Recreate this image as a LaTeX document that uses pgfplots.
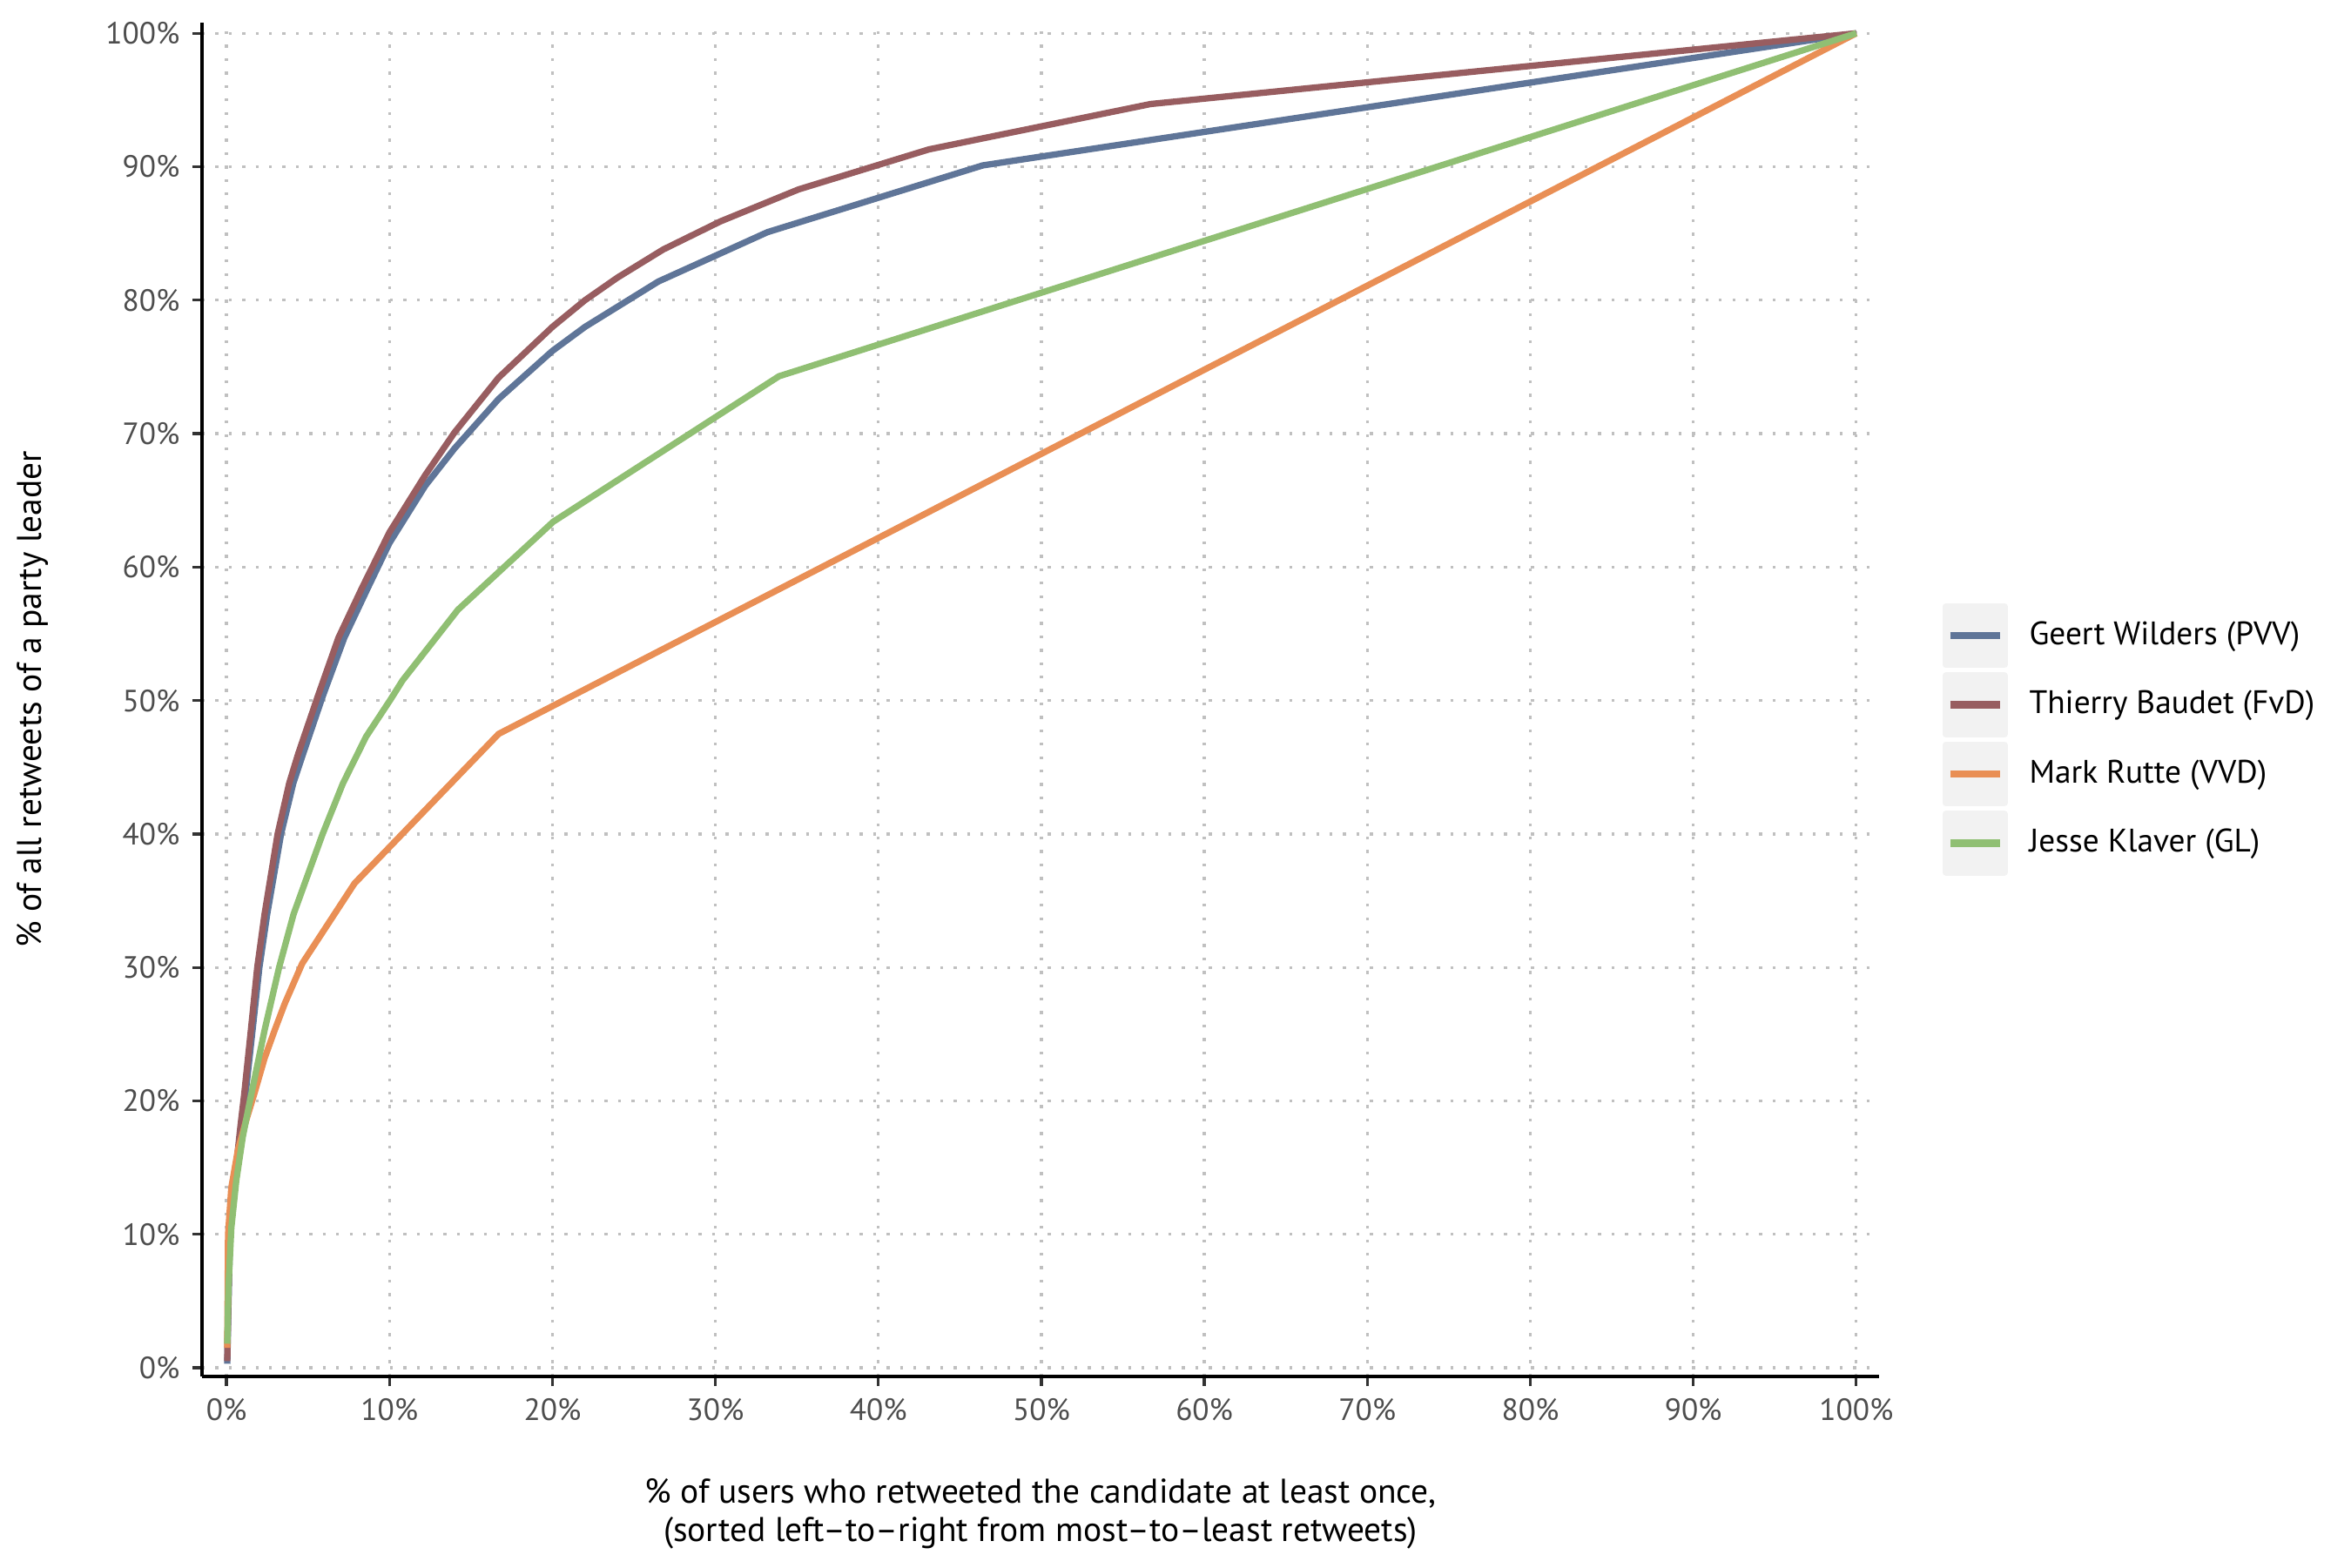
\documentclass[border=0pt]{standalone}
\usepackage{fontspec}
\setmainfont{PT Sans}
\usepackage{pgfplots}
\pgfplotsset{compat=1.18}
\definecolor{cgeert}{RGB}{95,117,152}
\definecolor{cthierry}{RGB}{152,93,96}
\definecolor{cmark}{RGB}{233,143,85}
\definecolor{cjesse}{RGB}{144,191,115}
\definecolor{legbg}{RGB}{242,242,242}
\definecolor{gridcol}{RGB}{192,192,192}
\definecolor{labcol}{RGB}{77,77,77}
\definecolor{tickcol}{RGB}{51,51,51}
\begin{document}
\begin{tikzpicture}
\useasboundingbox (-55.68bp,-52.56bp) rectangle (592.32bp,379.44bp);
\begin{axis}[
  at={(0,0)}, anchor=south west,
  scale only axis, width=462.24bp, height=373.2bp,
  xmin=-1.5, xmax=101.4, ymin=-0.65, ymax=100.8,
  axis lines=left,
  axis line style={-, black, line width=0.85bp},
  xtick={0,10,...,100}, ytick={0,10,...,100},
  xticklabel={\pgfmathprintnumber{\tick}\%},
  yticklabel={\pgfmathprintnumber{\tick}\%},
  /pgf/number format/assume math mode=true,
  tick align=outside, major tick length=2.64bp,
  tick style={line width=0.8bp, color=tickcol},
  grid=major,
  major grid style={line width=0.8bp, color=gridcol, dash pattern=on 0.8bp off 2.9bp},
  ticklabel style={font=\fontsize{8.5}{10}\selectfont, text=labcol},
  xlabel={\% of users who retweeted the candidate at least once,\\(sorted left–to–right from most–to–least retweets)},
  xlabel style={at={(axis description cs:0.5,0)}, anchor=north, yshift=-28bp, inner sep=0pt, align=center, font=\fontsize{9.5}{10.6}\selectfont, text=black},
  ylabel={\% of all retweets of a party leader},
  ylabel style={at={(axis description cs:-0.1008,0.5)}, anchor=center, inner sep=0pt, font=\fontsize{9.5}{10.6}\selectfont, text=black},
  legend style={at={(axis description cs:1.038,0.571)}, anchor=north west, draw=none, fill=none, inner sep=0pt, outer sep=0pt, row sep=1.2bp, column sep=6bp, nodes={inner sep=0pt, font=\fontsize{9}{11}\selectfont, text=black}},
  legend cell align=left,
  legend image code/.code={\fill[legbg] (0bp,-8.05bp) rectangle (16.1bp,8.05bp); \draw[#1, line width=2bp] (1.2bp,0bp) -- (14.9bp,0bp);},
  every axis plot/.append style={no markers, line width=1.75bp, line join=round},
]
\addplot[cgeert] coordinates {
(0.05,0.3) (0.1,3.5) (0.22,10) (0.55,14) (0.92,18) (1.17,20.5) (1.6,25.3) (2.02,30)
(2.5,34) (3.35,40) (4.1,43.8) (4.7,46) (5.9,50.3) (7.23,54.7) (8.66,58.4) (10,61.8)
(12.2,66.1) (14,68.9) (16.7,72.6) (20,76.2) (22,78) (26.5,81.4) (33.2,85.1)
(46.4,90.1) (100,100)};
\addlegendentry{Geert Wilders (PVV)}
\addplot[cthierry] coordinates {
(0.05,0.5) (0.1,4) (0.2,10) (0.5,14) (0.85,18) (1.09,20.5) (1.5,25.3) (1.89,30)
(2.34,34) (3.14,40) (3.85,43.8) (4.4,46) (5.6,50.3) (6.87,54.7) (8.3,58.4) (10,62.6)
(12.2,66.9) (14,70.1) (16.7,74.2) (20,78.0) (22,80.0) (24,81.7) (26.8,83.8)
(30.3,85.9) (35.1,88.3) (43.1,91.3) (56.7,94.7) (100,100)};
\addlegendentry{Thierry Baudet (FvD)}
\addplot[cmark] coordinates {
(0.05,1.5) (0.1,10) (0.3,13.5) (0.7,16.3) (1.2,18.5) (1.7,20.5) (2.34,23.2)
(2.96,25.3) (3.58,27.3) (4.65,30.3) (7.86,36.3) (16.7,47.5) (100,100)};
\addlegendentry{Mark Rutte (VVD)}
\addplot[cjesse] coordinates {
(0.05,1.8) (0.12,6) (0.3,10.5) (0.6,14) (1.0,17.3) (1.44,20) (2.34,25.3) (3.23,30)
(4.12,34) (5.9,40) (7.15,43.8) (8.57,47.3) (10.08,50.1) (10.8,51.5) (14.2,56.8)
(20.05,63.4) (33.9,74.3) (100,100)};
\addlegendentry{Jesse Klaver (GL)}
\end{axis}
\end{tikzpicture}
\end{document}
